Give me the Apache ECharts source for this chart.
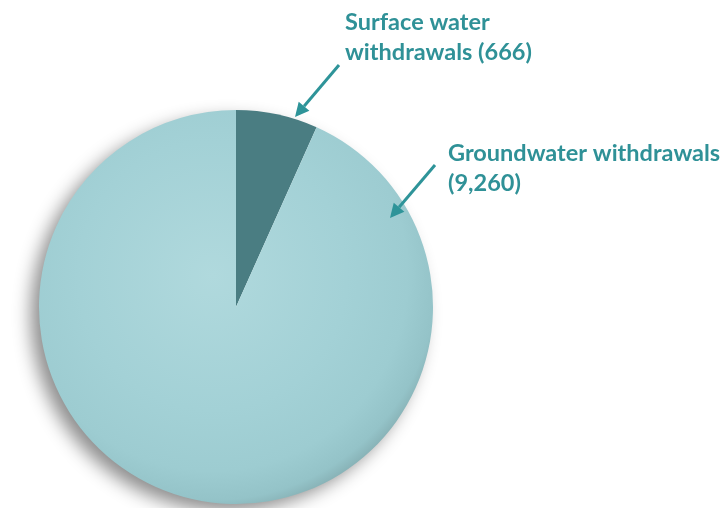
<!DOCTYPE html>
<html>
<head>
<meta charset="utf-8">
<script src="https://cdn.jsdelivr.net/npm/echarts@6/dist/echarts.min.js"></script>
<style>
  html, body { margin: 0; padding: 0; background: #ffffff; }
  #chart { width: 727px; height: 508px; }
</style>
</head>
<body>
<div id="chart"></div>
<script>
// withdrawals, in order drawn clockwise from 12 o'clock
var sourceNames = ['Surface water withdrawals', 'Groundwater withdrawals'];
var sourceValues = [666, 9260];

var textColor = '#2f9197';
var arrowColor = '#2e9499';

function fmt(v) {
    return v.toLocaleString('en-US');
}

var chart = echarts.init(document.getElementById('chart'));

var pieData = sourceNames.map(function (name, i) {
    var color;
    if (i === 0) {
        color = '#4a7d82';
    } else {
        color = new echarts.graphic.RadialGradient(0.44, 0.42, 0.62, [
            { offset: 0, color: '#b0d9dd' },
            { offset: 0.55, color: '#a3d1d6' },
            { offset: 0.8, color: '#9dccd1' },
            { offset: 0.92, color: '#94c3c8' },
            { offset: 1, color: '#80a8ac' }
        ]);
    }
    return { name: name, value: sourceValues[i], itemStyle: { color: color } };
});

function arrow(x1, y1, x2, y2) {
    var ang = Math.atan2(y2 - y1, x2 - x1);
    var len = 14, half = 7;
    var bx = x2 - len * Math.cos(ang), by = y2 - len * Math.sin(ang);
    var px = -Math.sin(ang) * half, py = Math.cos(ang) * half;
    return [
        {
            type: 'line', z: 10,
            shape: { x1: x1, y1: y1, x2: bx, y2: by },
            style: { stroke: arrowColor, lineWidth: 3 }
        },
        {
            type: 'polygon', z: 10,
            shape: { points: [[x2, y2], [bx + px, by + py], [bx - px, by - py]] },
            style: { fill: arrowColor }
        }
    ];
}

var labelStyle = {
    fill: textColor,
    font: 'bold 23.5px Lato',
    lineHeight: 29.5
};

var graphics = [
    {
        // drop shadow under the disc
        type: 'circle', z: 0, silent: true,
        shape: { cx: 236, cy: 307, r: 196 },
        style: {
            fill: '#ffffff',
            shadowBlur: 18,
            shadowOffsetX: -9,
            shadowOffsetY: 8,
            shadowColor: 'rgba(0,0,0,0.45)'
        }
    },
    {
        type: 'text', z: 10, left: 345, top: 8,
        style: Object.assign({
            text: 'Surface water\nwithdrawals (' + fmt(sourceValues[0]) + ')'
        }, labelStyle)
    },
    {
        type: 'text', z: 10, left: 448, top: 139,
        style: Object.assign({
            text: sourceNames[1] + '\n(' + fmt(sourceValues[1]) + ')'
        }, labelStyle)
    }
].concat(arrow(339, 65, 295, 117)).concat(arrow(435, 165, 390, 218));

chart.setOption({
    animation: false,
    graphic: graphics,
    series: [{
        type: 'pie',
        z: 2,
        center: [236, 307],
        radius: 197,
        startAngle: 90,
        clockwise: true,
        silent: true,
        label: { show: false },
        labelLine: { show: false },
        itemStyle: { borderWidth: 0 },
        emphasis: { disabled: true },
        data: pieData
    }]
});
</script>
</body>
</html>
